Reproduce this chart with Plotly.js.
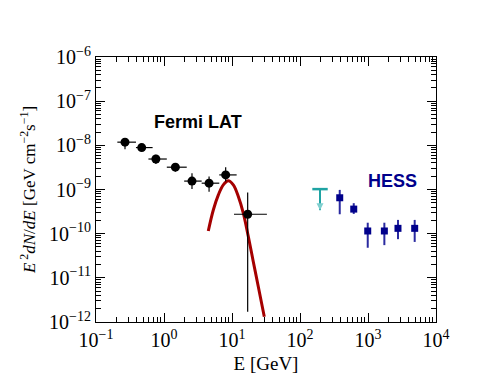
<!DOCTYPE html>
<html>
<head>
<meta charset="utf-8">
<script src="https://cdn.plot.ly/plotly-3.0.1.min.js"></script>
<style>html,body{margin:0;padding:0;background:#fff;}#plot{width:491px;height:379px;}</style>
</head>
<body>
<div id="plot"></div>
<script>
// Fermi LAT points
var fermiE   = [0.267, 0.47, 0.76, 1.47, 2.58, 4.6, 8.07, 17];
var fermiF   = [1.18e-8, 8.9e-9, 4.9e-9, 3.2e-9, 1.55e-9, 1.39e-9, 2.14e-9, 2.75e-10];
var fermiElo = [0.206, 0.387, 0.59, 1.1, 1.98, 3.58, 6.5, 10.7];
var fermiEhi = [0.387, 0.68, 1.1, 2.16, 3.58, 6.5, 11.7, 32.6];
var fermiFlo = [8.2e-9, 8.2e-9, 3.8e-9, 2.55e-9, 1.03e-9, 8.95e-10, 1.51e-9, 1.7e-12];
var fermiFhi = [1.46e-8, 9.6e-9, 6.1e-9, 3.95e-9, 2.34e-9, 1.96e-9, 3.2e-9, 8.5e-10];

// HESS points
var hessE   = [384, 617, 991, 1740, 2760, 4860];
var hessF   = [6.5e-10, 3.6e-10, 1.15e-10, 1.15e-10, 1.32e-10, 1.32e-10];
var hessFlo = [2.75e-10, 2.8e-10, 4.8e-11, 5.5e-11, 7.5e-11, 6.5e-11];
var hessFhi = [9.8e-10, 4.9e-10, 1.77e-10, 1.77e-10, 2.05e-10, 2.05e-10];

// Upper limit
var ulE = [197];
var ulF = [1.02e-9];
var ulTip = [3.4e-10];

// Model curve
var curveE = [4.48, 5.31, 6.30, 7.45, 8.83, 10.45, 12.39, 14.66, 17.38, 20.56, 24.38, 29.85];
var curveF = [1.15e-10, 3.44e-10, 7.55e-10, 1.27e-9, 1.57e-9, 1.27e-9, 6.92e-10, 2.9e-10, 8.6e-11, 2.32e-11, 6.3e-12, 1.32e-12];

// Tick labels
var xExp = [-1, 0, 1, 2, 3, 4];
var yExp = [-12, -11, -10, -9, -8, -7, -6];

function sub(a, b) { return a.map(function (v, i) { return v - b[i]; }); }
function expLabel(p) { return '10<sup>' + (p < 0 ? '\u2212' + Math.abs(p) : p) + '</sup>'; }
function minorVals(lo, hi) {
  var out = [];
  for (var p = lo; p < hi; p++) for (var m = 2; m <= 9; m++) out.push(m * Math.pow(10, p));
  return out;
}

var data = [
  {
    x: curveE, y: curveF, mode: 'lines', type: 'scatter',
    line: {color: '#a50000', width: 3, shape: 'spline'}, hoverinfo: 'skip'
  },
  {
    x: fermiE, y: fermiF, mode: 'markers', type: 'scatter',
    marker: {color: 'black', size: 9, symbol: 'circle'},
    error_x: {type: 'data', symmetric: false, array: sub(fermiEhi, fermiE), arrayminus: sub(fermiE, fermiElo), color: 'black', thickness: 1.2, width: 0},
    error_y: {type: 'data', symmetric: false, array: sub(fermiFhi, fermiF), arrayminus: sub(fermiF, fermiFlo), color: 'black', thickness: 1.2, width: 0}
  },
  {
    x: hessE, y: hessF, mode: 'markers', type: 'scatter',
    marker: {color: '#00008b', size: 7, symbol: 'square'},
    error_y: {type: 'data', symmetric: false, array: sub(hessFhi, hessF), arrayminus: sub(hessF, hessFlo), color: '#2a2aa0', thickness: 2, width: 0}
  },
  {
    x: ulE, y: ulF, mode: 'markers', type: 'scatter',
    marker: {color: '#1fa3a3', size: 11, symbol: 'line-ew', line: {color: '#1fa3a3', width: 2.5}},
    error_y: {type: 'data', symmetric: false, array: [0], arrayminus: sub(ulF, ulTip), color: '#1fa3a3', thickness: 2, width: 0}
  },
  {
    x: ulE, y: ulTip, mode: 'markers', type: 'scatter',
    marker: {color: '#7fcfcf', size: 7, symbol: 'arrow-down', angleref: 'up'}
  }
];

var axisCommon = {
  type: 'log', showline: true, linecolor: 'black', linewidth: 1, mirror: 'ticks',
  ticks: 'inside', ticklen: 9, tickcolor: 'black', showgrid: false, zeroline: false,
  tickmode: 'array', tickfont: {family: 'Liberation Serif', size: 20, color: 'black'}
};

var layout = {
  width: 491, height: 379,
  margin: {l: 96, r: 55, t: 57, b: 57},
  paper_bgcolor: 'white', plot_bgcolor: 'white',
  showlegend: false,
  xaxis: Object.assign({}, axisCommon, {
    range: [-1, 4],
    tickvals: xExp.map(function (p) { return Math.pow(10, p); }),
    ticktext: xExp.map(expLabel),
    minor: {tickmode: 'array', tickvals: minorVals(-1, 4), ticks: 'inside', ticklen: 5, tickcolor: 'black', showgrid: false},
    title: {text: 'E [GeV]', font: {family: 'Liberation Serif', size: 19, color: 'black'}, standoff: 6}
  }),
  yaxis: Object.assign({}, axisCommon, {
    range: [-12, -6],
    tickvals: yExp.map(function (p) { return Math.pow(10, p); }),
    ticktext: yExp.map(expLabel),
    minor: {tickmode: 'array', tickvals: minorVals(-12, -6), ticks: 'inside', ticklen: 5, tickcolor: 'black', showgrid: false},
    title: {text: '<i>E</i><sup> 2</sup><i>dN</i>/<i>dE</i> [GeV cm<sup>\u22122</sup>s<sup>\u22121</sup>]', font: {family: 'Liberation Serif', size: 17, color: 'black'}, standoff: 9}
  }),
  annotations: [
    {text: '<b>Fermi LAT</b>', xref: 'paper', yref: 'paper', x: 0.3, y: 0.755, xanchor: 'center', yanchor: 'middle', showarrow: false,
     font: {family: 'Liberation Sans', size: 18, color: 'black'}},
    {text: '<b>HESS</b>', xref: 'paper', yref: 'paper', x: 0.871, y: 0.532, xanchor: 'center', yanchor: 'middle', showarrow: false,
     font: {family: 'Liberation Sans', size: 18, color: '#00008b'}}
  ]
};

Plotly.newPlot('plot', data, layout, {staticPlot: true, displayModeBar: false});
</script>
</body>
</html>
